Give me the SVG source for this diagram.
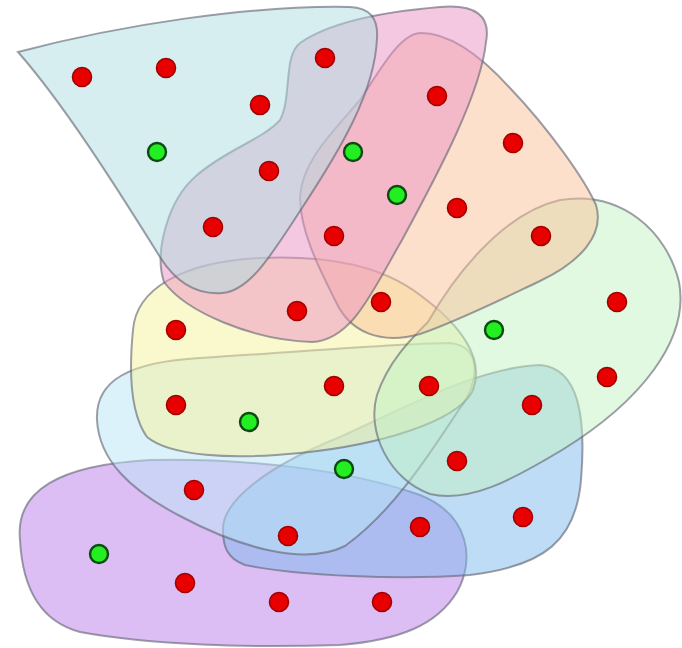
<svg xmlns="http://www.w3.org/2000/svg" width="682" height="648" viewBox="0 0 682 648">
<style>
.blob{fill-opacity:0.5;stroke:#5f6070;stroke-opacity:0.6;stroke-width:2}
.r{fill:#e80000;stroke:#a00000;stroke-width:1.6}
.g{fill:#22ee22;stroke:#0b4a10;stroke-width:2.4}
</style>
<rect width="682" height="648" fill="#ffffff"/>
<g id="hyperedges">
<g id="edge-purple"><path class="blob" fill="#b97deb" d="M20,540 C15,490 60,465 150,460 C250,458 350,470 420,495 C470,515 475,560 457,592 C437,625 400,640 340,645 C250,648 150,645 80,632 C35,620 22,580 20,540 Z"/></g>
<g id="edge-blue"><path class="blob" fill="#7db9eb" d="M223,530 C222,500 270,465 340,437 C410,405 480,367 540,365 C580,368 586,420 581,480 C576,540 545,566 470,575 C400,580 300,576 245,565 C226,558 223,545 223,530 Z"/></g>
<g id="edge-cyan"><path class="blob" fill="#b9e5f5" d="M97,420 C95,380 130,362 200,358 C300,352 400,343 450,343 C482,346 480,382 460,408 C432,450 395,510 345,546 C305,566 240,548 180,516 C130,490 99,460 97,420 Z"/></g>
<g id="edge-yellow"><path class="blob" fill="#f5f19b" d="M133,330 C136,290 180,262 260,258 C330,255 382,266 420,295 C462,326 486,360 472,392 C455,422 380,445 300,453 C230,460 170,456 147,437 C128,410 130,360 133,330 Z"/></g>
<g id="edge-green"><path class="blob" fill="#c3f1c3" d="M428,322 C452,280 500,214 560,200 C622,190 667,232 679,282 C690,340 640,402 562,450 C512,480 470,503 430,494 C390,480 366,432 377,395 C388,362 410,340 428,322 Z"/></g>
<g id="edge-orange"><path class="blob" fill="#f9c199" d="M421,33 C450,33 480,55 510,88 C550,130 585,180 596,205 C605,235 580,262 540,281 C500,300 460,320 420,334 C380,345 350,332 336,302 C320,270 300,232 300,197 C302,162 330,135 360,100 C380,70 400,33 421,33 Z"/></g>
<g id="edge-pink"><path class="blob" fill="#eb91c3" d="M300,43 C330,22 380,12 440,7 C476,4 491,16 486,42 C481,92 440,170 402,240 C372,292 352,340 312,342 C252,340 186,312 164,282 C154,252 168,200 196,176 C225,150 262,140 280,120 C292,98 283,56 300,43 Z"/></g>
<g id="edge-lightblue"><path class="blob" fill="#addde1" d="M18,52 C120,25 250,5 350,7 Q379,8 377,38 C375,92 340,150 302,208 C272,254 250,291 222,293 C195,295 175,281 160,257 C112,180 62,102 18,52 Z"/></g>
</g>
<g id="connectors"></g>
<g id="nodes">
<g id="n1"><circle class="r" cx="82" cy="77" r="9.5"/></g>
<g id="n2"><circle class="r" cx="166" cy="68" r="9.5"/></g>
<g id="n3"><circle class="r" cx="325" cy="58" r="9.5"/></g>
<g id="n4"><circle class="r" cx="260" cy="105" r="9.5"/></g>
<g id="n5"><circle class="r" cx="437" cy="96" r="9.5"/></g>
<g id="n6"><circle class="r" cx="513" cy="143" r="9.5"/></g>
<g id="n7"><circle class="r" cx="269" cy="171" r="9.5"/></g>
<g id="n8"><circle class="r" cx="457" cy="208" r="9.5"/></g>
<g id="n9"><circle class="r" cx="541" cy="236" r="9.5"/></g>
<g id="n10"><circle class="r" cx="213" cy="227" r="9.5"/></g>
<g id="n11"><circle class="r" cx="334" cy="236" r="9.5"/></g>
<g id="n12"><circle class="r" cx="617" cy="302" r="9.5"/></g>
<g id="n13"><circle class="r" cx="381" cy="302" r="9.5"/></g>
<g id="n14"><circle class="r" cx="297" cy="311" r="9.5"/></g>
<g id="n15"><circle class="r" cx="176" cy="330" r="9.5"/></g>
<g id="n16"><circle class="r" cx="334" cy="386" r="9.5"/></g>
<g id="n17"><circle class="r" cx="429" cy="386" r="9.5"/></g>
<g id="n18"><circle class="r" cx="176" cy="405" r="9.5"/></g>
<g id="n19"><circle class="r" cx="607" cy="377" r="9.5"/></g>
<g id="n20"><circle class="r" cx="532" cy="405" r="9.5"/></g>
<g id="n21"><circle class="r" cx="457" cy="461" r="9.5"/></g>
<g id="n22"><circle class="r" cx="194" cy="490" r="9.5"/></g>
<g id="n23"><circle class="r" cx="288" cy="536" r="9.5"/></g>
<g id="n24"><circle class="r" cx="420" cy="527" r="9.5"/></g>
<g id="n25"><circle class="r" cx="523" cy="517" r="9.5"/></g>
<g id="n26"><circle class="r" cx="185" cy="583" r="9.5"/></g>
<g id="n27"><circle class="r" cx="279" cy="602" r="9.5"/></g>
<g id="n28"><circle class="r" cx="382" cy="602" r="9.5"/></g>
<g id="g1"><circle class="g" cx="157" cy="152" r="9"/></g>
<g id="g2"><circle class="g" cx="353" cy="152" r="9"/></g>
<g id="g3"><circle class="g" cx="397" cy="195" r="9"/></g>
<g id="g4"><circle class="g" cx="494" cy="330" r="9"/></g>
<g id="g5"><circle class="g" cx="249" cy="422" r="9"/></g>
<g id="g6"><circle class="g" cx="344" cy="469" r="9"/></g>
<g id="g7"><circle class="g" cx="99" cy="554" r="9"/></g>
</g>
</svg>
